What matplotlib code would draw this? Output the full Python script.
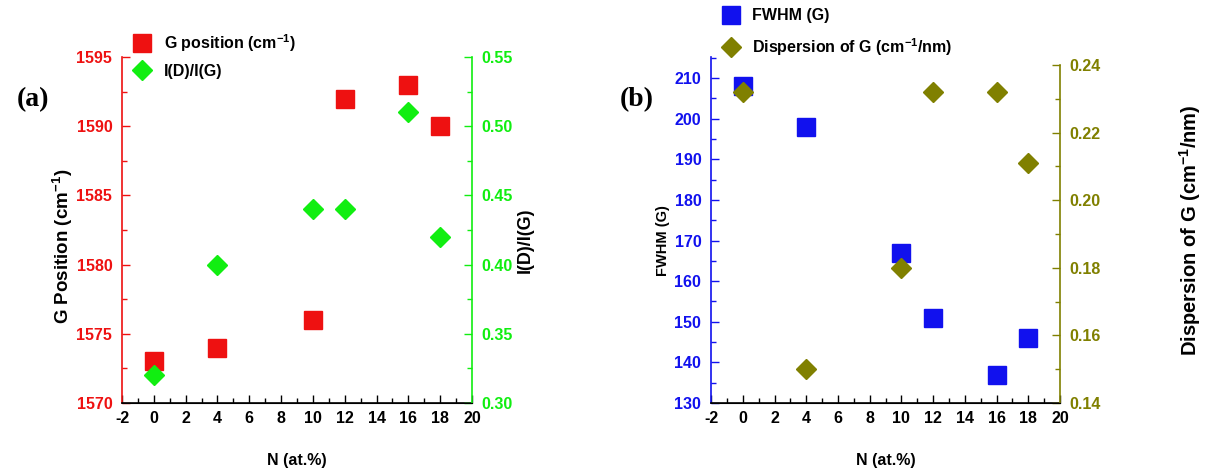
import matplotlib
matplotlib.use('Agg')
import matplotlib.pyplot as plt
from matplotlib.ticker import MultipleLocator

plt.rcParams['axes.unicode_minus'] = False

# data
n_at = [0, 4, 10, 12, 16, 18]
g_pos = [1573, 1574, 1576, 1592, 1593, 1590]
id_ig = [0.32, 0.40, 0.44, 0.44, 0.51, 0.42]
fwhm_g = [208, 198, 167, 151, 137, 146]
disp_g = [0.232, 0.150, 0.180, 0.232, 0.232, 0.211]

sans = ['Liberation Sans', 'DejaVu Sans']
serif = ['Liberation Serif', 'DejaVu Serif']
TICK_FS = 11.5

RED = '#ee1111'
GREEN = '#11ee11'
BLUE = '#1111ee'
OLIVE = '#808000'

fig = plt.figure(figsize=(12.06, 4.72), dpi=100)


def style_axis(ax, color, side):
    ax.tick_params(axis='y', which='both', direction='in', colors=color,
                   labelcolor=color, pad=7)
    ax.tick_params(axis='y', which='major', length=6, width=1)
    ax.tick_params(axis='y', which='minor', length=3.5, width=1)
    ax.spines[side].set_color(color)
    ax.spines[side].set_linewidth(1.2)
    for lab in ax.get_yticklabels():
        lab.set_family(sans)
        lab.set_fontweight('bold')
        lab.set_fontsize(TICK_FS)


def style_x(ax):
    ax.set_xlim(-2, 20)
    ax.xaxis.set_major_locator(MultipleLocator(2))
    ax.xaxis.set_minor_locator(MultipleLocator(1))
    ax.tick_params(axis='x', which='both', direction='in', pad=6)
    ax.tick_params(axis='x', which='major', length=6, width=1)
    ax.tick_params(axis='x', which='minor', length=3.5, width=1)
    ax.spines['bottom'].set_linewidth(1.2)
    for lab in ax.get_xticklabels():
        lab.set_family(sans)
        lab.set_fontweight('bold')
        lab.set_fontsize(TICK_FS)
    ax.set_xlabel('N (at.%)', family=sans, fontweight='bold', fontsize=11.5,
                  va='center')
    ax.xaxis.set_label_coords(0.5, -0.165)


# ---- panel (a)
ax1 = fig.add_axes([0.1012, 0.1462, 0.2902, 0.733])
ax2 = ax1.twinx()
h1, = ax1.plot(n_at, g_pos, 's', color=RED, markersize=12.5, linestyle='none',
               label='G position (cm$^{\\mathregular{-1}}$)')
h2, = ax2.plot(n_at, id_ig, 'D', color=GREEN, markersize=10, linestyle='none',
               label='I(D)/I(G)')
ax1.set_ylim(1570, 1595)
ax1.yaxis.set_major_locator(MultipleLocator(5))
ax1.yaxis.set_minor_locator(MultipleLocator(2.5))
ax2.set_ylim(0.30, 0.55)
ax2.yaxis.set_major_locator(MultipleLocator(0.05))
ax2.yaxis.set_minor_locator(MultipleLocator(0.025))
ax2.yaxis.set_major_formatter(plt.FormatStrFormatter('%.2f'))
for a in (ax1, ax2):
    a.spines['top'].set_visible(False)
ax2.spines['left'].set_visible(False)
ax1.spines['right'].set_visible(False)
style_x(ax1)
style_axis(ax1, RED, 'left')
style_axis(ax2, GREEN, 'right')
ax1.set_ylabel('G Position (cm$^{\\mathregular{-1}}$)', family=sans,
               fontweight='bold', fontsize=13.5, va='center')
ax1.yaxis.set_label_coords(-0.171, 0.454)
ax2.set_ylabel('I(D)/I(G)', family=sans, fontweight='bold', fontsize=13,
               va='center', rotation=90)
ax2.yaxis.set_label_coords(1.151, 0.47)
fig.legend(handles=[h1, h2], loc='upper left', bbox_to_anchor=(0.098, 0.962),
           frameon=False, prop={'family': sans, 'weight': 'bold', 'size': 11.5},
           handletextpad=0.75, labelspacing=0.6, handlelength=1.2)
fig.text(0.027, 0.79, '(a)', family=serif, fontweight='bold', fontsize=20,
         ha='center', va='center')

# ---- panel (b)
ax3 = fig.add_axes([0.5896, 0.1462, 0.2894, 0.733])
ax4 = ax3.twinx()
h3, = ax3.plot(n_at, fwhm_g, 's', color=BLUE, markersize=12.5, linestyle='none',
               label='FWHM (G)')
h4, = ax4.plot(n_at, disp_g, 'D', color=OLIVE, markersize=10, linestyle='none',
               label='Dispersion of G (cm$^{\\mathregular{-1}}$/nm)')
ax3.set_ylim(130, 215.2)
ax3.yaxis.set_major_locator(MultipleLocator(10))
ax3.yaxis.set_minor_locator(MultipleLocator(5))
ax4.set_ylim(0.14, 0.2424)
ax4.yaxis.set_major_locator(MultipleLocator(0.02))
ax4.yaxis.set_minor_locator(MultipleLocator(0.01))
ax4.yaxis.set_major_formatter(plt.FormatStrFormatter('%.2f'))
ax4.spines['right'].set_bounds(0.14, 0.24)
for a in (ax3, ax4):
    a.spines['top'].set_visible(False)
ax4.spines['left'].set_visible(False)
ax3.spines['right'].set_visible(False)
style_x(ax3)
style_axis(ax3, BLUE, 'left')
style_axis(ax4, OLIVE, 'right')
ax3.set_ylabel('FWHM (G)', family=sans, fontweight='bold', fontsize=10.5,
               va='center')
ax3.yaxis.set_label_coords(-0.1375, 0.47)
ax4.set_ylabel('Dispersion of G (cm$^{\\mathregular{-1}}$/nm)', family=sans,
               fontweight='bold', fontsize=14.5, va='center', rotation=90)
ax4.yaxis.set_label_coords(1.372, 0.5)
fig.legend(handles=[h3, h4], loc='upper left', bbox_to_anchor=(0.586, 1.013),
           frameon=False, prop={'family': sans, 'weight': 'bold', 'size': 11.5},
           handletextpad=0.75, labelspacing=0.8, handlelength=1.2)
fig.text(0.528, 0.79, '(b)', family=serif, fontweight='bold', fontsize=20,
         ha='center', va='center')

fig.savefig('out.png', dpi=100)
